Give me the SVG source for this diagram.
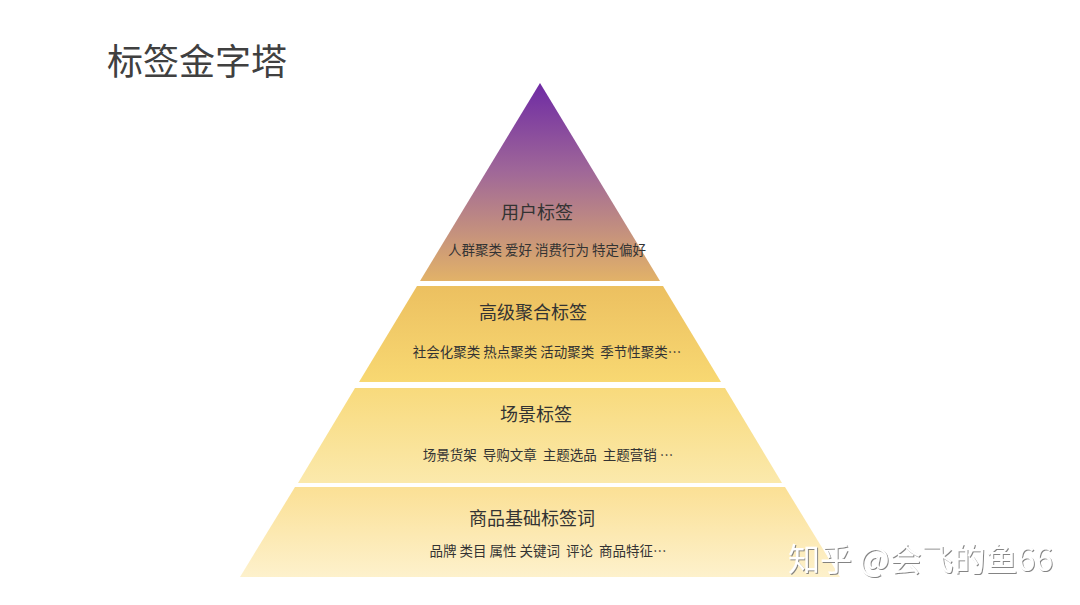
<svg xmlns="http://www.w3.org/2000/svg" width="1080" height="605" viewBox="0 0 1080 605">
<defs>
<linearGradient id="gTop" x1="0" y1="83" x2="0" y2="281" gradientUnits="userSpaceOnUse">
<stop offset="0" stop-color="#6e2aa4"/>
<stop offset="0.45" stop-color="#a06898"/>
<stop offset="1" stop-color="#e2b268"/>
</linearGradient>
<linearGradient id="g2" x1="0" y1="286" x2="0" y2="382" gradientUnits="userSpaceOnUse">
<stop offset="0" stop-color="#ecc060"/>
<stop offset="1" stop-color="#f8d872"/>
</linearGradient>
<linearGradient id="g3" x1="0" y1="388" x2="0" y2="483" gradientUnits="userSpaceOnUse">
<stop offset="0" stop-color="#f8da7c"/>
<stop offset="1" stop-color="#fbe9ac"/>
</linearGradient>
<linearGradient id="g4" x1="0" y1="487" x2="0" y2="577" gradientUnits="userSpaceOnUse">
<stop offset="0" stop-color="#fbe095"/>
<stop offset="1" stop-color="#fdf1cc"/>
</linearGradient>
<filter id="sh" x="-5%" y="-20%" width="110%" height="140%">
<feDropShadow dx="1" dy="1" stdDeviation="0.6" flood-color="#777" flood-opacity="0.9"/>
</filter>
</defs>
<style>
text{font-family:"Noto Sans CJK SC","Noto Sans",sans-serif;white-space:pre;}
.h{font-size:18px;fill:#333;text-anchor:middle;}
.s{font-size:13.5px;fill:#333;text-anchor:middle;}
</style>
<rect width="1080" height="605" fill="#ffffff"/>
<text x="107" y="75" style="font-size:36px;fill:#404040;">标签金字塔</text>
<g id="connectors"/>
<g id="tier-user">
<polygon points="540,83 660,281 420,281" fill="url(#gTop)"/>
<text class="h" x="537" y="219">用户标签</text>
<text class="s" x="547" y="255">人群聚类 爱好 消费行为 特定偏好</text>
</g>
<g id="tier-aggregate">
<polygon points="417,286 663,286 721,382 359,382" fill="url(#g2)"/>
<text class="h" x="533" y="319">高级聚合标签</text>
<text class="s" x="547" y="357">社会化聚类 热点聚类 活动聚类  季节性聚类…</text>
</g>
<g id="tier-scene">
<polygon points="355,388 725,388 782,483 298,483" fill="url(#g3)"/>
<text class="h" x="536" y="421">场景标签</text>
<text class="s" x="548" y="460">场景货架  导购文章  主题选品  主题营销 …</text>
</g>
<g id="tier-base">
<polygon points="295,487 785,487 840,577 240,577" fill="url(#g4)"/>
<text class="h" x="532" y="525">商品基础标签词</text>
<text class="s" x="548" y="556">品牌 类目 属性 关键词  评论  商品特征…</text>
</g>
<text x="788" y="571" style="font-size:32px;fill:#ffffff;" filter="url(#sh)">知乎 @会飞的鱼66</text>
</svg>
